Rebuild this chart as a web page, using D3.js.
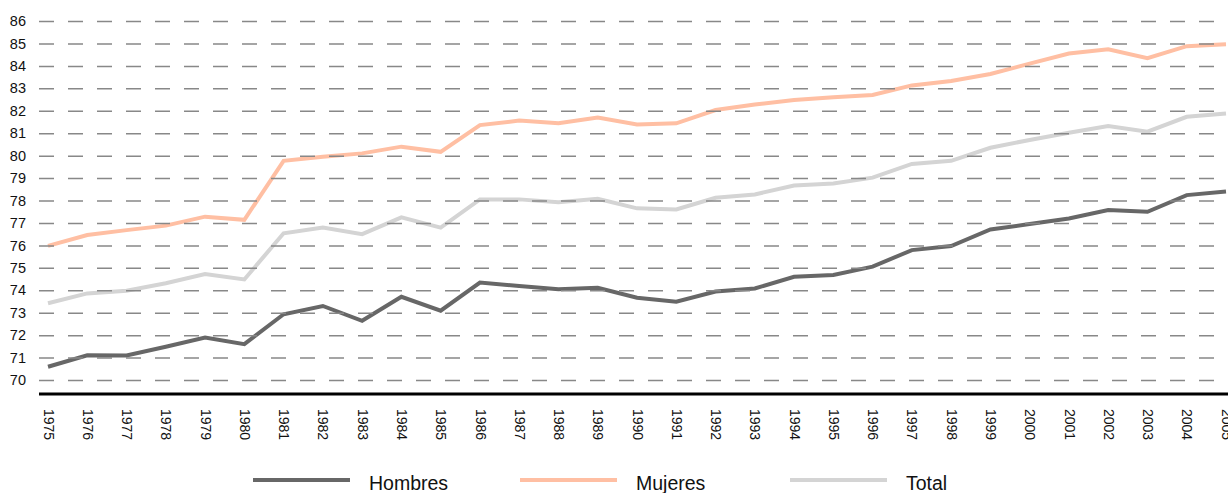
<!DOCTYPE html>
<html><head><meta charset="utf-8">
<script src="https://cdn.jsdelivr.net/npm/d3@7"></script>
<style>html,body{margin:0;padding:0;background:#fff;overflow:hidden}svg{display:block}</style>
</head><body>
<svg id="c" width="1228" height="493"></svg>
<script>
const years = [1975,1976,1977,1978,1979,1980,1981,1982,1983,1984,1985,1986,1987,1988,1989,1990,1991,1992,1993,1994,1995,1996,1997,1998,1999,2000,2001,2002,2003,2004,2005];
const hombres = [70.59,71.1,71.09,71.48,71.89,71.6,72.93,73.3,72.64,73.71,73.09,74.34,74.19,74.04,74.11,73.67,73.49,73.94,74.08,74.6,74.68,75.05,75.79,75.97,76.71,76.95,77.2,77.58,77.5,78.24,78.4];
const mujeres = [75.98,76.46,76.68,76.88,77.28,77.14,79.77,79.95,80.1,80.4,80.17,81.36,81.56,81.44,81.7,81.39,81.44,82.03,82.28,82.48,82.6,82.7,83.13,83.33,83.64,84.1,84.55,84.74,84.34,84.88,84.96];
const total = [73.42,73.86,73.98,74.31,74.72,74.48,76.54,76.8,76.5,77.25,76.79,78.05,78.05,77.92,78.08,77.65,77.6,78.12,78.27,78.67,78.76,79.02,79.63,79.77,80.35,80.7,81.02,81.32,81.07,81.73,81.88];
const yTicks = [70,71,72,73,74,75,76,77,78,79,80,81,82,83,84,85,86];
const seriesNames = ["Hombres","Mujeres","Total"];
const seriesColors = ["#676767","#ffbfa3","#d4d4d4"];

const svg = d3.select("#c");
const font = "'Liberation Sans', Arial, Helvetica, sans-serif";
const x = d3.scalePoint().domain(years).range([48, 1226]);
const y = d3.scaleLinear().domain([70, 86]).range([380, 21]);

// lines
const series = [hombres, mujeres, total];
const line = d3.line().x((d,i)=>x(years[i])).y(d=>y(d));
series.forEach((s,k)=>{
  svg.append("path").datum(s).attr("d", line)
    .attr("fill","none").attr("stroke", seriesColors[k])
    .attr("stroke-width",4).attr("stroke-linejoin","miter");
});

// grid
const gy = svg.append("g").attr("transform","translate(39,0)")
  .call(d3.axisLeft(y).tickValues(yTicks).tickSize(-1189).tickPadding(13).tickFormat(d3.format("d")));
gy.select(".domain").remove();
gy.selectAll(".tick line").attr("stroke","#888").attr("stroke-width",1.5).attr("stroke-dasharray","15,14");
gy.selectAll(".tick text").attr("font-family",font).attr("font-size",14.5).attr("fill","#111");

// x axis
const gx = svg.append("g").attr("transform","translate(0,394)")
  .call(d3.axisBottom(x).tickSize(0).tickPadding(0).tickFormat(d3.format("d")));
gx.select(".domain").remove();
svg.append("line").attr("x1",39).attr("x2",1228).attr("y1",394).attr("y2",394)
  .attr("stroke","#000").attr("stroke-width",3);
gx.selectAll(".tick text")
  .attr("font-family",font).attr("font-size",14).attr("fill","#111")
  .attr("text-anchor","start").attr("dy","0.35em")
  .attr("transform","translate(0,15) rotate(90)")
  .attr("x",0).attr("y",0);

// legend
const legX = [253, 520, 790];
const leg = svg.append("g");
seriesNames.forEach((n,k)=>{
  leg.append("line").attr("x1",legX[k]).attr("x2",legX[k]+97).attr("y1",480).attr("y2",480)
    .attr("stroke",seriesColors[k]).attr("stroke-width",4);
  leg.append("text").attr("x",legX[k]+116).attr("y",490).text(n)
    .attr("font-family",font).attr("font-size",19.5).attr("fill","#111");
});
</script>
</body></html>
